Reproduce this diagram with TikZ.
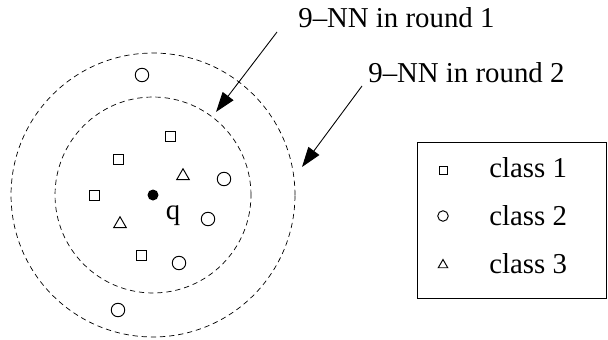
\documentclass[tikz,border=0pt]{standalone}
\usepackage{fontspec}
\setmainfont{Liberation Serif}
\usetikzlibrary{arrows.meta,shapes.geometric}

\tikzset{
	lbl/.style={font=\fontsize{16.4}{19}\selectfont, inner sep=0pt},
	sqr/.style={draw, line width=0.55pt, rectangle, minimum size=0.2cm, inner sep=0pt},
	circ/.style={draw, line width=0.55pt, circle, minimum size=0.27cm, inner sep=0pt},
	tri/.style={draw, line width=0.55pt, regular polygon, regular polygon sides=3, minimum size=0.29cm, inner sep=0pt},
	pointer/.style={-{Triangle[length=0.4cm, width=0.27cm]}, line width=0.5pt},
}

\begin{document}
\begin{tikzpicture}[x=0.02cm, y=0.02cm]
	\useasboundingbox (0, 0) rectangle (608, 339);

	% neighbourhoods
	\draw [thin, dash pattern=on 3pt off 2.2pt] (153, 144) circle (2.84cm);
	\draw [thin, dash pattern=on 3pt off 2.2pt] (153, 144) circle (1.96cm);

	% query point
	\node[circle, fill, minimum size=0.22cm, inner sep=0pt] (q) at (153, 144) {};
	\node[lbl, anchor=base] (qlabel) at (173, 120) {q};

	% class 1
	\node[sqr] (s1) at (170, 203) {};
	\node[sqr] (s2) at (118, 180) {};
	\node[sqr] (s3) at (94, 144) {};
	\node[sqr] (s4) at (141, 84) {};

	% class 2
	\node[circ] (c1) at (142, 264) {};
	\node[circ] (c2) at (224, 160) {};
	\node[circ] (c3) at (208, 120) {};
	\node[circ] (c4) at (179, 76) {};
	\node[circ] (c5) at (118, 29) {};

	% class 3
	\node[tri] (t1) at (183, 163) {};
	\node[tri] (t2) at (120, 115) {};

	% rounds
	\node[lbl, anchor=base west] (round1) at (298, 312) {9--NN in round 1};
	\node[lbl, anchor=base west] (round2) at (368, 257) {9--NN in round 2};
	\coordinate (from1) at (277, 307);
	\coordinate (tip1) at (216, 227);
	\coordinate (from2) at (362, 253);
	\coordinate (tip2) at (302, 172);
	\draw [pointer] (from1) -- (tip1);
	\draw [pointer] (from2) -- (tip2);

	% legend
	\draw [line width=0.5pt] (417, 41) rectangle (606, 197);
	\node[sqr, minimum size=0.16cm] (key1) at (443, 169) {};
	\node[circ, minimum size=0.21cm] (key2) at (443, 123) {};
	\node[tri, minimum size=0.22cm] (key3) at (443, 74) {};
	\node[lbl, anchor=base west] (class1) at (489, 162) {class 1};
	\node[lbl, anchor=base west] (class2) at (489, 114) {class 2};
	\node[lbl, anchor=base west] (class3) at (489, 66) {class 3};
\end{tikzpicture}
\end{document}
